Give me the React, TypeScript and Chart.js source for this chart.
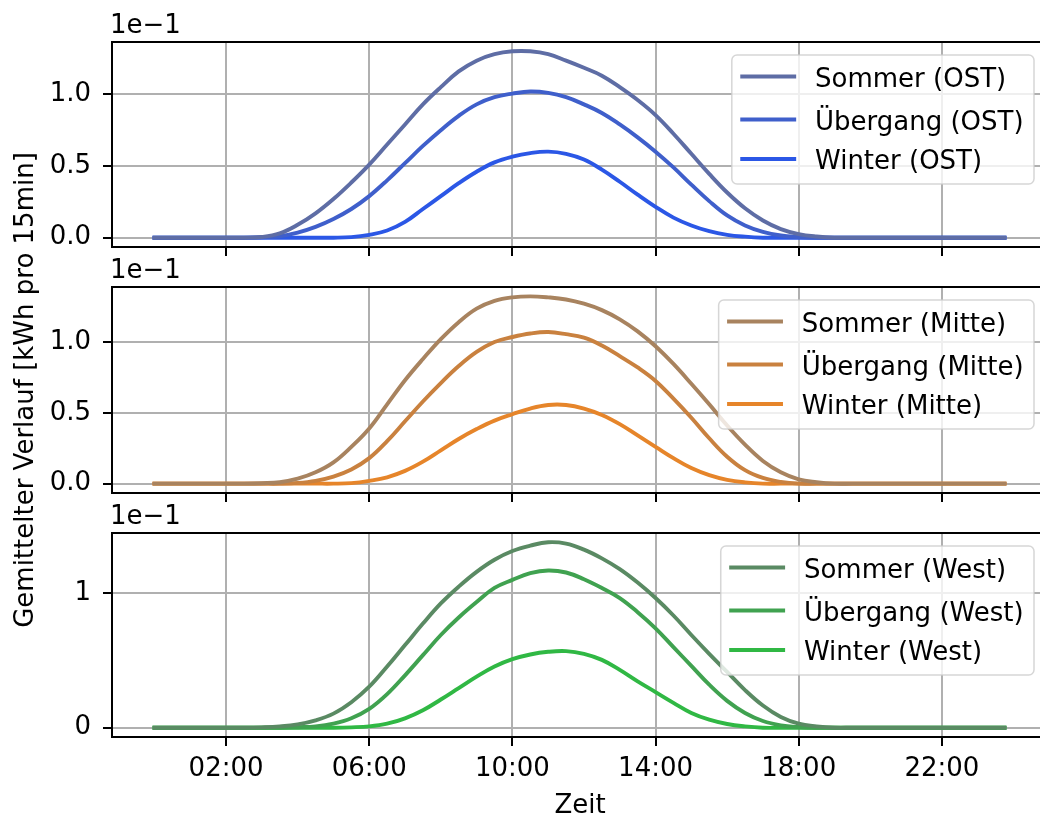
import React, { useEffect, useRef } from "react";
import { Chart, registerables } from "chart.js";

Chart.register(...registerables);

// ---------- data (values in units of 1e-1 kWh per 15 min) ----------
const times = [
  "00:00", "00:30", "01:00", "01:30", "02:00", "02:30", "03:00", "03:30", "04:00", "04:30",
  "05:00", "05:30", "06:00", "06:30", "07:00", "07:30", "08:00", "08:30", "09:00", "09:30",
  "10:00", "10:30", "11:00", "11:30", "12:00", "12:30", "13:00", "13:30", "14:00", "14:30",
  "15:00", "15:30", "16:00", "16:30", "17:00", "17:30", "18:00", "18:30", "19:00", "19:30",
  "20:00", "20:30", "21:00", "21:30", "22:00", "22:30", "23:00", "23:30", "23:45",
];

const sommerOst = [
  0, 0, 0, 0, 0, 0,
  0.005, 0.03, 0.09, 0.17, 0.27, 0.385,
  0.51, 0.65, 0.79, 0.93, 1.05, 1.16,
  1.235, 1.28, 1.3, 1.3, 1.28, 1.235,
  1.185, 1.13, 1.05, 0.96, 0.855, 0.725,
  0.585, 0.445, 0.315, 0.205, 0.12, 0.06,
  0.025, 0.008, 0, 0, 0, 0,
  0, 0, 0, 0, 0, 0, 0,
];
const uebergangOst = [
  0, 0, 0, 0, 0, 0,
  0.003, 0.01, 0.035, 0.075, 0.13, 0.2,
  0.29, 0.4, 0.52, 0.64, 0.75, 0.85,
  0.93, 0.98, 1.005, 1.02, 1.01, 0.98,
  0.93, 0.87, 0.79, 0.7, 0.6, 0.49,
  0.37, 0.255, 0.155, 0.085, 0.04, 0.015,
  0.005, 0, 0, 0, 0, 0,
  0, 0, 0, 0, 0, 0, 0,
];
const winterOst = [
  0, 0, 0, 0, 0, 0,
  0, 0, 0, 0, 0, 0.004,
  0.02, 0.05, 0.11, 0.2, 0.29, 0.38,
  0.46, 0.525, 0.565, 0.59, 0.6, 0.585,
  0.545, 0.475, 0.39, 0.3, 0.215, 0.14,
  0.085, 0.045, 0.02, 0.007, 0, 0,
  0, 0, 0, 0, 0, 0,
  0, 0, 0, 0, 0, 0, 0,
];

const sommerMitte = [
  0, 0, 0, 0, 0, 0,
  0.003, 0.01, 0.035, 0.08, 0.15, 0.26,
  0.39, 0.56, 0.73, 0.88, 1.02, 1.14,
  1.235, 1.29, 1.315, 1.322, 1.315, 1.3,
  1.27, 1.225, 1.16, 1.075, 0.97, 0.845,
  0.705, 0.56, 0.41, 0.275, 0.16, 0.08,
  0.03, 0.01, 0, 0, 0, 0,
  0, 0, 0, 0, 0, 0, 0,
];
const uebergangMitte = [
  0, 0, 0, 0, 0, 0,
  0, 0, 0.005, 0.02, 0.05, 0.1,
  0.18, 0.3, 0.44, 0.58, 0.71, 0.83,
  0.93, 1.0, 1.035, 1.06, 1.07, 1.055,
  1.03, 0.975, 0.9, 0.82, 0.725, 0.6,
  0.465, 0.32, 0.19, 0.095, 0.04, 0.012,
  0, 0, 0, 0, 0, 0,
  0, 0, 0, 0, 0, 0, 0,
];
const winterMitte = [
  0, 0, 0, 0, 0, 0,
  0, 0, 0, 0, 0, 0.004,
  0.02, 0.045, 0.09, 0.155, 0.235, 0.315,
  0.385, 0.445, 0.49, 0.53, 0.555, 0.555,
  0.53, 0.485, 0.42, 0.34, 0.26, 0.18,
  0.11, 0.06, 0.027, 0.009, 0, 0,
  0, 0, 0, 0, 0, 0,
  0, 0, 0, 0, 0, 0, 0,
];

const sommerWest = [
  0, 0, 0, 0, 0, 0,
  0.003, 0.01, 0.025, 0.055, 0.105, 0.19,
  0.305, 0.455, 0.615, 0.775, 0.925, 1.05,
  1.16, 1.25, 1.315, 1.355, 1.38, 1.37,
  1.325, 1.26, 1.18, 1.08, 0.965, 0.835,
  0.69, 0.55, 0.415, 0.28, 0.165, 0.08,
  0.03, 0.01, 0, 0, 0, 0,
  0, 0, 0, 0, 0, 0, 0,
];
const uebergangWest = [
  0, 0, 0, 0, 0, 0,
  0, 0, 0.004, 0.01, 0.03, 0.07,
  0.14, 0.25, 0.39, 0.54, 0.69, 0.82,
  0.935, 1.04, 1.1, 1.15, 1.17, 1.155,
  1.105, 1.04, 0.965, 0.86, 0.74, 0.6,
  0.46, 0.32, 0.2, 0.11, 0.05, 0.018,
  0.005, 0, 0, 0, 0, 0,
  0, 0, 0, 0, 0, 0, 0,
];
const winterWest = [
  0, 0, 0, 0, 0, 0,
  0, 0, 0, 0, 0, 0.003,
  0.01, 0.03, 0.07, 0.13, 0.21, 0.295,
  0.38, 0.455, 0.51, 0.545, 0.565, 0.57,
  0.55, 0.505, 0.43, 0.345, 0.265, 0.185,
  0.11, 0.06, 0.028, 0.01, 0, 0,
  0, 0, 0, 0, 0, 0,
  0, 0, 0, 0, 0, 0, 0,
];

const namesOst = ["Sommer (OST)", "Übergang (OST)", "Winter (OST)"];
const namesMitte = ["Sommer (Mitte)", "Übergang (Mitte)", "Winter (Mitte)"];
const namesWest = ["Sommer (West)", "Übergang (West)", "Winter (West)"];

const colorsOst = ["#5e6da5", "#3f5fcb", "#2b57e6"];
const colorsMitte = ["#a8835f", "#c9813f", "#e6852a"];
const colorsWest = ["#5a8a63", "#40a250", "#30b844"];

const xTickHours = [2, 6, 10, 14, 18, 22];
const xTickLabels = ["02:00", "06:00", "10:00", "14:00", "18:00", "22:00"];
const yTicksDec = [0, 0.5, 1.0];
const yTickLabelsDec = ["0.0", "0.5", "1.0"];
const yTicksInt = [0, 1];
const yTickLabelsInt = ["0", "1"];
const offsetText = "1e\u22121";
const yLabel = "Gemittelter Verlauf [kWh pro 15min]";
const xLabel = "Zeit";

// ---------- layout ----------
const W = 1060;
const H = 814;
const AX_LEFT = 112;
const AX_RIGHT = 1047;
const FS = 26;
const FONT = '"DejaVu Sans", sans-serif';
const LW = 3.9;

type Panel = {
  names: string[];
  series: number[][];
  colors: string[];
  top: number;
  bottom: number;
  yTicks: number[];
  yTickLabels: string[];
};

const panels: Panel[] = [
  { names: namesOst, series: [sommerOst, uebergangOst, winterOst], colors: colorsOst, top: 42, bottom: 247, yTicks: yTicksDec, yTickLabels: yTickLabelsDec },
  { names: namesMitte, series: [sommerMitte, uebergangMitte, winterMitte], colors: colorsMitte, top: 287, bottom: 493, yTicks: yTicksDec, yTickLabels: yTickLabelsDec },
  { names: namesWest, series: [sommerWest, uebergangWest, winterWest], colors: colorsWest, top: 533, bottom: 737, yTicks: yTicksInt, yTickLabels: yTickLabelsInt },
];

const toHours = (t: string) => {
  const [h, m] = t.split(":").map(Number);
  return h + m / 60;
};

function makeChart(canvas: HTMLCanvasElement, p: Panel, idx: number) {
  const hours = times.map(toHours);
  const h0 = hours[0];
  const h1 = hours[hours.length - 1];
  const xMin = h0 - 0.05 * (h1 - h0);
  const xMax = h1 + 0.05 * (h1 - h0);
  const all = p.series.flat();
  const vMax = Math.max(...all);
  const vMin = Math.min(...all);
  const yMin = vMin - 0.05 * (vMax - vMin);
  const yMax = vMax + 0.05 * (vMax - vMin);
  const isLast = idx === panels.length - 1;

  const decor = {
    id: "decor" + idx,
    afterDatasetsDraw(chart: any) {
      const { ctx, chartArea: a } = chart;
      ctx.save();
      // frame
      ctx.strokeStyle = "#000";
      ctx.lineWidth = 2;
      ctx.strokeRect(a.left, a.top, a.right - a.left, a.bottom - a.top);

      // legend
      ctx.font = `${FS}px ${FONT}`;
      const textW = Math.max(...p.names.map((n) => ctx.measureText(n).width));
      const right = a.right - 0.5 * FS;
      const bw = 0.4 * FS + 2 * FS + 0.8 * FS + textW + 0.4 * FS;
      const left = right - bw;
      const top = a.top + 13;
      const bh = 129;
      ctx.beginPath();
      (ctx as any).roundRect(left, top, bw, bh, 0.2 * FS);
      ctx.fillStyle = "rgba(255,255,255,0.8)";
      ctx.fill();
      ctx.strokeStyle = "rgba(204,204,204,0.8)";
      ctx.lineWidth = 1.5;
      ctx.stroke();
      const rows = [21.5, 64.5, 104];
      p.names.forEach((n, i) => {
        const y = top + rows[i];
        ctx.beginPath();
        ctx.strokeStyle = p.colors[i];
        ctx.lineWidth = LW;
        ctx.lineCap = "square";
        ctx.moveTo(left + 0.4 * FS, y);
        ctx.lineTo(left + 0.4 * FS + 2 * FS, y);
        ctx.stroke();
        ctx.fillStyle = "#000";
        ctx.textAlign = "left";
        ctx.textBaseline = "alphabetic";
        ctx.fillText(n, left + 0.4 * FS + 2.8 * FS, y + 10.3);
      });

      // offset text
      ctx.fillStyle = "#000";
      ctx.textAlign = "left";
      ctx.textBaseline = "alphabetic";
      ctx.fillText(offsetText, a.left - 2, a.top - 9);

      if (isLast) {
        ctx.textAlign = "center";
        ctx.fillText(xLabel, (a.left + a.right) / 2 + 0.5, 813);
      }
      if (idx === 1) {
        ctx.save();
        ctx.translate(32.5, (a.top + a.bottom) / 2);
        ctx.rotate(-Math.PI / 2);
        ctx.textAlign = "center";
        ctx.textBaseline = "alphabetic";
        ctx.fillText(yLabel, 0, 0);
        ctx.restore();
      }
      ctx.restore();
    },
  };

  const gridCommon = {
    color: "#b0b0b0",
    lineWidth: 2,
    tickColor: "#000",
    tickLength: 9,
    tickWidth: 2,
    drawTicks: true,
    drawOnChartArea: true,
  };

  return new Chart(canvas, {
    type: "line",
    data: {
      datasets: p.series.map((s, i) => ({
        label: p.names[i],
        data: s.map((v, j) => ({ x: hours[j], y: v })),
        borderColor: p.colors[i],
        backgroundColor: p.colors[i],
        borderWidth: LW,
        pointRadius: 0,
        fill: false,
        tension: 0.4,
        borderCapStyle: "square" as const,
        borderJoinStyle: "round" as const,
      })),
    },
    options: {
      responsive: false,
      animation: false,
      devicePixelRatio: 1,
      events: [],
      layout: { padding: { left: 0, right: W - AX_RIGHT, top: p.top, bottom: 0 } },
      plugins: { legend: { display: false }, tooltip: { enabled: false }, title: { display: false } },
      scales: {
        x: {
          type: "linear",
          min: xMin,
          max: xMax,
          afterBuildTicks: (s: any) => {
            s.ticks = xTickHours.map((v) => ({ value: v }));
          },
          afterFit: (s: any) => {
            s.height = H - p.bottom;
          },
          ticks: {
            display: isLast,
            autoSkip: false,
            maxRotation: 0,
            padding: 8,
            color: "#000",
            font: { family: FONT, size: FS },
            callback: (v: any) => {
              const k = xTickHours.indexOf(Number(v));
              return k >= 0 ? xTickLabels[k] : "";
            },
          },
          grid: gridCommon,
          border: { display: false },
        },
        y: {
          type: "linear",
          min: yMin,
          max: yMax,
          afterBuildTicks: (s: any) => {
            s.ticks = p.yTicks.map((v) => ({ value: v }));
          },
          afterFit: (s: any) => {
            s.width = AX_LEFT;
          },
          ticks: {
            padding: 12,
            color: "#000",
            font: { family: FONT, size: FS },
            callback: (v: any) => {
              const k = p.yTicks.indexOf(Number(v));
              return k >= 0 ? p.yTickLabels[k] : "";
            },
          },
          grid: gridCommon,
          border: { display: false },
        },
      },
    },
    plugins: [decor],
  } as any);
}

export default function App() {
  const r0 = useRef<HTMLCanvasElement>(null);
  const r1 = useRef<HTMLCanvasElement>(null);
  const r2 = useRef<HTMLCanvasElement>(null);
  useEffect(() => {
    const refs = [r0, r1, r2];
    const charts = panels.map((p, i) => makeChart(refs[i].current as HTMLCanvasElement, p, i));
    return () => charts.forEach((c) => c.destroy());
  }, []);
  const refs = [r0, r1, r2];
  return (
    <div
      style={{
        position: "fixed",
        left: 0,
        top: 0,
        width: 1040,
        height: 814,
        overflow: "hidden",
        background: "#ffffff",
      }}
    >
      {panels.map((_, i) => (
        <canvas
          key={i}
          ref={refs[i]}
          width={W}
          height={H}
          style={{ position: "absolute", left: 0, top: 0, width: W, height: H }}
        />
      ))}
    </div>
  );
}
